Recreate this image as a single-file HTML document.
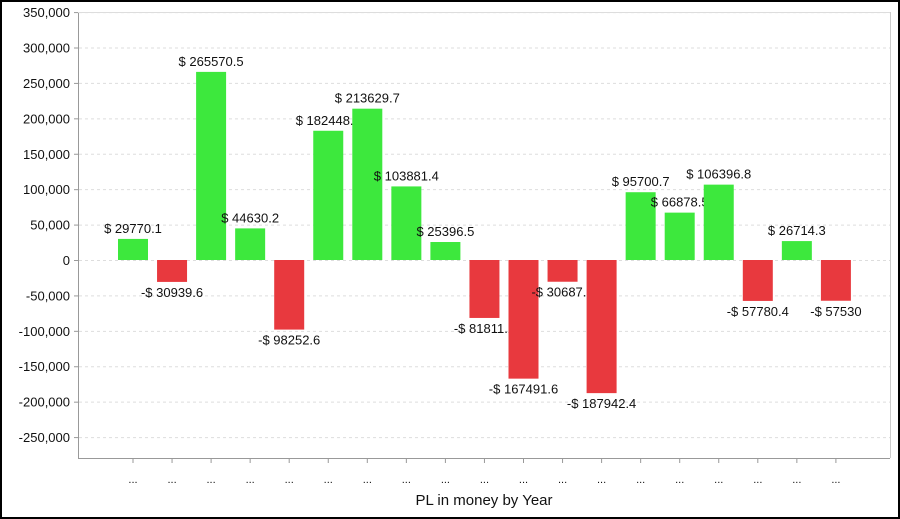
<!DOCTYPE html>
<html><head><meta charset="utf-8"><style>
html,body{margin:0;padding:0;background:#fff}
svg{display:block}
text{font-family:"Liberation Sans",Arial,sans-serif;font-size:13px;fill:#111}
</style></head><body>
<svg width="900" height="519" viewBox="0 0 900 519" xmlns="http://www.w3.org/2000/svg">
<rect x="1" y="1" width="898" height="517" fill="#fff" stroke="#000" stroke-width="2"/>
<g id="grid" stroke="#ddd" stroke-dasharray="3,3" stroke-width="1"></g>
<g id="yl"></g>
<g id="bars"></g>
<line x1="78.5" y1="12" x2="78.5" y2="458" stroke="#999"/>
<line x1="78" y1="458.5" x2="890" y2="458.5" stroke="#999"/>
<line x1="890.5" y1="12" x2="890.5" y2="458" stroke="#ccc"/>
<line x1="78" y1="12.5" x2="890" y2="12.5" stroke="#ddd"/>
<g id="xt"></g>
<text x="484" y="505" text-anchor="middle" style="font-size:15px">PL in money by Year</text>
<script>
var ns="http://www.w3.org/2000/svg";
function el(t,a,p,tx){var e=document.createElementNS(ns,t);for(var k in a)e.setAttribute(k,a[k]);if(tx!=null)e.textContent=tx;document.getElementById(p).appendChild(e);return e;}
var z=260,s=0.70833/1000;
for(var v=-250000;v<=350000;v+=50000){var y=z-v*s;
 el('line',{x1:79,x2:890,y1:y+0.5,y2:y+0.5},'grid');
 el('line',{x1:74,x2:78,y1:y+0.5,y2:y+0.5,stroke:'#999'},'yl');
 el('text',{x:70,y:y+5,'text-anchor':'end'},'yl',v.toLocaleString('en-US'));}
var d=[29770.1,-30939.6,265570.5,44630.2,-98252.6,182448.3,213629.7,103881.4,25396.5,-81811.2,-167491.6,-30687.3,-187942.4,95700.7,66878.5,106396.8,-57780.4,26714.3,-57530];
d.forEach(function(v,i){var cx=133+i*39.05,h=Math.abs(v)*s;
 var y=v>=0?z-h:z;
 el('rect',{x:cx-15,y:y,width:30,height:h,fill:v>=0?'#3de83d':'#e8393e'},'bars');
 var lab=(v<0?'-$ ':'$ ')+Math.abs(v);
 el('text',{x:cx,y:v>=0?z-h-6:z+h+15,'text-anchor':'middle'},'bars',lab);
 el('line',{x1:cx,x2:cx,y1:459,y2:463,stroke:'#999'},'xt');
 el('text',{x:cx,y:483,'text-anchor':'middle',style:'font-size:11px'},'xt','...');
});
</script>
</svg>
</body></html>
